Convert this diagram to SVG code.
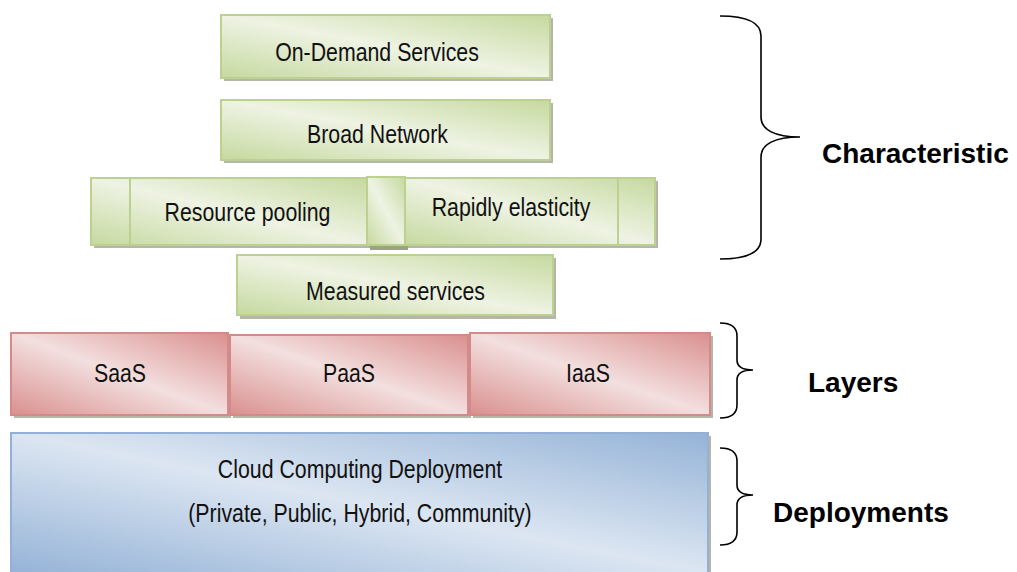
<svg xmlns="http://www.w3.org/2000/svg" width="1017" height="572" viewBox="0 0 1017 572">
  <defs>
    <linearGradient id="gGreen" x1="0" y1="1" x2="1" y2="0">
      <stop offset="0" stop-color="#c6d99f"/>
      <stop offset="0.5" stop-color="#eef3e3"/>
      <stop offset="1" stop-color="#c6d99f"/>
    </linearGradient>
    <linearGradient id="gRed" x1="0" y1="1" x2="1" y2="0">
      <stop offset="0" stop-color="#d9908e"/>
      <stop offset="0.5" stop-color="#f3dfdf"/>
      <stop offset="1" stop-color="#d9908e"/>
    </linearGradient>
    <linearGradient id="gBlue" x1="0" y1="1" x2="1" y2="0">
      <stop offset="0" stop-color="#95b3d7"/>
      <stop offset="0.5" stop-color="#dce6f2"/>
      <stop offset="1" stop-color="#95b3d7"/>
    </linearGradient>
  </defs>
  <style>
    .shadow { fill: #9c9c8c; opacity: 0.75; }
    .green { fill: url(#gGreen); stroke: #bcd08f; stroke-width: 2; }
    .red { fill: url(#gRed); stroke: #d48a88; stroke-width: 2; }
    .blue { fill: url(#gBlue); stroke: #93b1d6; stroke-width: 2; }
    .divider { stroke: #bcd08f; stroke-width: 2; }
    .label { font-family: "Liberation Sans", Arial, sans-serif; font-size: 26px; fill: #111; }
    .side { font-family: "Liberation Sans", Arial, sans-serif; font-size: 28px; font-weight: bold; fill: #000; }
    .brace { fill: none; stroke: #000; stroke-width: 1.6; }
  </style>

  <!-- Characteristics -->
  <g id="on-demand">
    <rect class="shadow" x="224" y="18" width="329" height="63"/>
    <rect class="green" x="221" y="15" width="329" height="63"/>
    <text class="label" text-anchor="middle" transform="translate(377,61) scale(0.82,1)">On-Demand Services</text>
  </g>
  <g id="broad-network">
    <rect class="shadow" x="224" y="103" width="329" height="60"/>
    <rect class="green" x="221" y="100" width="329" height="60"/>
    <text class="label" text-anchor="middle" transform="translate(377.5,143) scale(0.82,1)">Broad Network</text>
  </g>
  <g id="resource-pooling">
    <rect class="shadow" x="94" y="181" width="276" height="67"/>
    <rect class="green" x="91" y="178" width="276" height="67"/>
    <line class="divider" x1="130" y1="179" x2="130" y2="244"/>
    <text class="label" text-anchor="middle" transform="translate(247.5,221) scale(0.82,1)">Resource pooling</text>
  </g>
  <g id="pillar">
    <rect x="370" y="181" width="38" height="69" fill="#7f8f5c" opacity="0.8"/>
    <rect class="green" x="367" y="177" width="38" height="68"/>
  </g>
  <g id="rapid-elasticity">
    <rect class="shadow" x="408" y="181" width="250" height="67"/>
    <rect class="green" x="405" y="178" width="250" height="67"/>
    <line class="divider" x1="618" y1="179" x2="618" y2="244"/>
    <text class="label" text-anchor="middle" transform="translate(511,216) scale(0.82,1)">Rapidly elasticity</text>
  </g>
  <g id="measured-services">
    <rect class="shadow" x="240" y="258" width="316" height="61"/>
    <rect class="green" x="237" y="255" width="316" height="60"/>
    <text class="label" text-anchor="middle" transform="translate(395.5,300) scale(0.82,1)">Measured services</text>
  </g>

  <!-- Service layers -->
  <g id="saas">
    <rect class="shadow" x="14" y="336" width="217" height="82"/>
    <rect class="red" x="11" y="333" width="217" height="82"/>
    <text class="label" text-anchor="middle" transform="translate(120,382) scale(0.82,1)">SaaS</text>
  </g>
  <g id="paas">
    <rect class="shadow" x="233" y="338" width="238" height="80"/>
    <rect class="red" x="230" y="335" width="238" height="80"/>
    <text class="label" text-anchor="middle" transform="translate(349,382) scale(0.82,1)">PaaS</text>
  </g>
  <g id="iaas">
    <rect class="shadow" x="473" y="336" width="240" height="82"/>
    <rect class="red" x="470" y="333" width="240" height="82"/>
    <text class="label" text-anchor="middle" transform="translate(588,382) scale(0.82,1)">IaaS</text>
  </g>

  <!-- Deployment models -->
  <g id="deployment">
    <rect class="shadow" x="14" y="436" width="697" height="140"/>
    <rect class="blue" x="11" y="433" width="697" height="140"/>
    <text class="label" text-anchor="middle" transform="translate(360,478) scale(0.82,1)">Cloud Computing Deployment</text>
    <text class="label" text-anchor="middle" transform="translate(360,522) scale(0.82,1)">(Private, Public, Hybrid, Community)</text>
  </g>

  <!-- Grouping braces -->
  <g id="connectors">
    <path class="brace" d="M720,16 C745,16 761,22 761,36 L761,117 C761,130 775,137 800,137 C775,137 761,144 761,157 L761,239 C761,253 745,259 720,259"/>
    <path class="brace" d="M720,323 C731,323 737,327 737,336 L737,360 C737,366 742,370 753,370 C742,370 737,374 737,380 L737,405 C737,414 731,418 720,418"/>
    <path class="brace" d="M720,448 C731,448 737,452 737,461 L737,485 C737,491 742,495 753,495 C742,495 737,499 737,505 L737,532 C737,541 731,545 720,545"/>
  </g>

  <g id="side-labels">
    <text class="side" x="822" y="163">Characteristic</text>
    <text class="side" x="808" y="392">Layers</text>
    <text class="side" x="773" y="522">Deployments</text>
  </g>
</svg>
